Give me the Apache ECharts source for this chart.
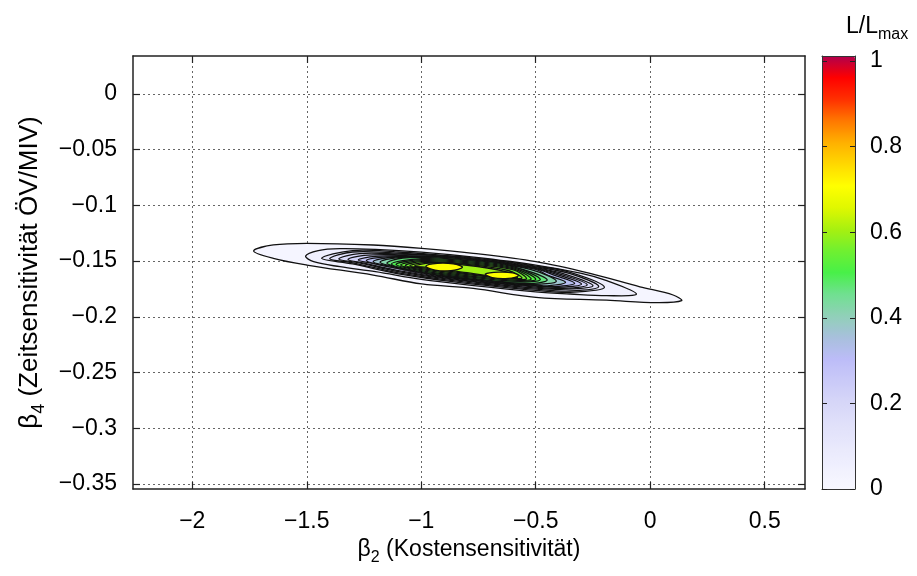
<!DOCTYPE html>
<html>
<head>
<meta charset="utf-8">
<script src="https://cdn.jsdelivr.net/npm/echarts@6/dist/echarts.min.js"></script>
<style>html,body{margin:0;padding:0;background:#fff}#c{width:917px;height:576px}</style>
</head>
<body>
<div id="c"></div>
<script>
// ---- Data ----
const xTicks = [-2, -1.5, -1, -0.5, 0, 0.5];
const yTicks = [0, -0.05, -0.1, -0.15, -0.2, -0.25, -0.3, -0.35];
const cbTicks = [0, 0.2, 0.4, 0.6, 0.8, 1];

// contour levels (L/Lmax) and their outlines [beta2, beta4], outer to inner
const contourLevels = [0.02, 0.06, 0.10, 0.14, 0.18, 0.22, 0.27, 0.32, 0.37, 0.42, 0.47, 0.50, 0.52, 0.54, 0.56, 0.58, 0.60, 0.71, 0.71];
const contourPaths = [
  [[-1.732,-0.1409],[-1.646,-0.1355],[-1.50,-0.134],[-1.21,-0.1355],[-0.998,-0.1385],[-0.773,-0.143],[-0.499,-0.1505],[-0.263,-0.161],[-0.045,-0.173],[0.10,-0.1804],[0.137,-0.1855],[0.028,-0.1873],[-0.19,-0.185],[-0.499,-0.1825],[-0.773,-0.1745],[-0.998,-0.1705],[-1.21,-0.1625],[-1.50,-0.1535],[-1.646,-0.1475]],
  [[-1.505,-0.1455],[-1.45,-0.1405],[-1.355,-0.1388],[-1.2,-0.1395],[-1.0,-0.142],[-0.77,-0.1465],[-0.5,-0.1535],[-0.3,-0.161],[-0.19,-0.1675],[-0.06,-0.1795],[-0.19,-0.181],[-0.35,-0.1795],[-0.5,-0.1775],[-0.77,-0.172],[-1.0,-0.1664],[-1.2,-0.1595],[-1.355,-0.155],[-1.47,-0.1505]],
  [[-1.435,-0.1475],[-1.3,-0.1405],[-1.1,-0.1418],[-0.9,-0.1448],[-0.7,-0.1487],[-0.5,-0.1545],[-0.35,-0.1600],[-0.2,-0.1735],[-0.35,-0.1780],[-0.5,-0.1763],[-0.7,-0.1722],[-0.9,-0.1675],[-1.1,-0.1615],[-1.3,-0.1525]],
  [[-1.40,-0.1478],[-1.3,-0.1418],[-1.1,-0.1428],[-0.9,-0.1453],[-0.7,-0.1492],[-0.5,-0.1552],[-0.35,-0.1612],[-0.225,-0.1728],[-0.35,-0.1768],[-0.5,-0.1752],[-0.7,-0.1712],[-0.9,-0.1665],[-1.1,-0.1605],[-1.3,-0.1515]],
  [[-1.36,-0.148],[-1.27,-0.1432],[-1.1,-0.1436],[-0.9,-0.1457],[-0.7,-0.1497],[-0.5,-0.1558],[-0.37,-0.1618],[-0.25,-0.172],[-0.37,-0.1752],[-0.5,-0.1742],[-0.7,-0.1703],[-0.9,-0.1657],[-1.1,-0.1595],[-1.27,-0.1515]],
  [[-1.32,-0.1485],[-1.25,-0.1448],[-1.1,-0.1443],[-0.9,-0.1460],[-0.7,-0.1501],[-0.5,-0.1563],[-0.38,-0.1625],[-0.275,-0.1712],[-0.38,-0.1745],[-0.5,-0.1733],[-0.7,-0.1696],[-0.9,-0.1650],[-1.1,-0.1585],[-1.25,-0.1518]],
  [[-1.275,-0.149],[-1.2,-0.1458],[-1.05,-0.1452],[-0.9,-0.1463],[-0.7,-0.1505],[-0.5,-0.1567],[-0.4,-0.1625],[-0.30,-0.1705],[-0.4,-0.1735],[-0.5,-0.1725],[-0.7,-0.1690],[-0.9,-0.1644],[-1.05,-0.159],[-1.2,-0.1525]],
  [[-1.24,-0.1495],[-1.15,-0.1462],[-0.9,-0.1466],[-0.7,-0.1508],[-0.5,-0.157],[-0.42,-0.1625],[-0.33,-0.1698],[-0.42,-0.1728],[-0.5,-0.1719],[-0.7,-0.1685],[-0.9,-0.1639],[-1.15,-0.1548]],
  [[-1.21,-0.1505],[-1.12,-0.1465],[-0.9,-0.1469],[-0.7,-0.1511],[-0.5,-0.1573],[-0.45,-0.1625],[-0.37,-0.169],[-0.45,-0.1722],[-0.5,-0.1712],[-0.7,-0.1680],[-0.9,-0.1634],[-1.12,-0.1552]],
  [[-1.18,-0.151],[-1.1,-0.1468],[-0.9,-0.1472],[-0.7,-0.1514],[-0.52,-0.1576],[-0.41,-0.168],[-0.52,-0.1708],[-0.7,-0.1675],[-0.9,-0.163],[-1.1,-0.1556]],
  [[-1.15,-0.152],[-1.08,-0.1472],[-0.9,-0.1475],[-0.7,-0.1517],[-0.55,-0.1578],[-0.45,-0.167],[-0.55,-0.1703],[-0.7,-0.167],[-0.9,-0.1626],[-1.08,-0.1562]],
  [[-1.13,-0.1525],[-1.0,-0.1478],[-0.8,-0.1495],[-0.6,-0.155],[-0.48,-0.1665],[-0.6,-0.1688],[-0.8,-0.1648],[-1.0,-0.1595]],
  [[-1.11,-0.153],[-1.0,-0.1487],[-0.8,-0.1504],[-0.6,-0.1559],[-0.50,-0.1662],[-0.6,-0.1679],[-0.8,-0.1639],[-1.0,-0.1586]],
  [[-1.09,-0.1535],[-1.0,-0.1496],[-0.8,-0.1513],[-0.6,-0.1568],[-0.52,-0.166],[-0.6,-0.167],[-0.8,-0.163],[-1.0,-0.1577]],
  [[-1.07,-0.154],[-1.0,-0.1505],[-0.8,-0.1522],[-0.6,-0.1577],[-0.54,-0.1658],[-0.6,-0.1661],[-0.8,-0.1621],[-1.0,-0.1568]],
  [[-1.05,-0.1543],[-0.98,-0.1512],[-0.8,-0.153],[-0.62,-0.1584],[-0.56,-0.1652],[-0.62,-0.1652],[-0.8,-0.1612],[-0.98,-0.1562]],
  [[-1.03,-0.1546],[-0.96,-0.1518],[-0.8,-0.1537],[-0.64,-0.159],[-0.58,-0.1646],[-0.64,-0.1645],[-0.8,-0.1604],[-0.96,-0.1557]],
  [[-0.98,-0.1545],[-0.93,-0.152],[-0.86,-0.1525],[-0.82,-0.1555],[-0.87,-0.1585],[-0.94,-0.158]],
  [[-0.72,-0.1615],[-0.66,-0.1598],[-0.6,-0.1605],[-0.575,-0.163],[-0.62,-0.1655],[-0.69,-0.1648]]
];

// colour palette of the colour box, from 0 to 1 in steps of 0.05
const paletteColors = ['#f8f8ff','#f0f0fe','#e8e8fc','#e0e0fa','#d6d6f8','#cacaf8','#bcbcf8','#a8c0dc','#90d0b8','#70e090','#48f048','#70f030','#a8f010','#e0f800','#ffff00','#ffd800','#ffb000','#ff7800','#ff3000','#ff0000','#b0004c'];

// ---- Chart ----
const FONT = 'Liberation Sans';
const seriesData = contourLevels.map((lv, i) => [lv, i]);
const minus = v => (v === 0 ? '0' : (v < 0 ? '\u2212' : '') + String(Math.abs(v)));
const border = { color: '#222', width: 1.5 };
const tickStyle = { color: '#222', width: 1.2 };
const lbl = { fontFamily: FONT, fontSize: 23, color: '#000' };
const subRichX = {
  b: { fontFamily: FONT, fontSize: 23, color: '#000' },
  s: { fontFamily: FONT, fontSize: 16, color: '#000', padding: [16, 0, 0, 0] }
};
const subRichY = {
  b: { fontFamily: FONT, fontSize: 26, color: '#000' },
  s: { fontFamily: FONT, fontSize: 18, color: '#000', padding: [18, 0, 0, 0] }
};

const chart = echarts.init(document.getElementById('c'), null, { renderer: 'canvas' });
chart.setOption({
  animation: false,
  backgroundColor: '#fff',
  grid: [
    { left: 133, top: 56, width: 672, height: 433 },
    { left: 822, top: 56, width: 33, height: 433 }
  ],
  xAxis: [
    { gridIndex: 0, type: 'value', min: -2.259, max: 0.676, position: 'bottom',
      axisLine: { onZero: false, lineStyle: border },
      axisTick: { inside: true, length: 7, customValues: xTicks, lineStyle: tickStyle },
      axisLabel: { customValues: xTicks, formatter: minus, margin: 21, ...lbl },
      splitLine: { show: true, lineStyle: { color: '#666', width: 1, type: [2, 3] } },
      name: '{b|\u03b2}{s|2} (Kostensensitivit\u00e4t)', nameLocation: 'middle', nameGap: 40,
      nameTextStyle: { ...lbl, rich: subRichX } },
    { gridIndex: 0, type: 'value', min: -2.259, max: 0.676, position: 'top',
      axisLine: { onZero: false, lineStyle: border },
      axisTick: { inside: true, length: 7, customValues: xTicks, lineStyle: tickStyle },
      axisLabel: { show: false }, splitLine: { show: false } },
    { gridIndex: 1, type: 'value', min: 0, max: 1, position: 'bottom', z: 10,
      axisLine: { onZero: false, lineStyle: { color: '#333', width: 1 } },
      axisTick: { show: false }, axisLabel: { show: false }, splitLine: { show: false } },
    { gridIndex: 1, type: 'value', min: 0, max: 1, position: 'top', z: 10,
      axisLine: { onZero: false, lineStyle: { color: '#333', width: 1 } },
      axisTick: { show: false }, axisLabel: { show: false }, splitLine: { show: false } }
  ],
  yAxis: [
    { gridIndex: 0, type: 'value', min: -0.3545, max: 0.0341, position: 'left',
      axisLine: { onZero: false, lineStyle: border },
      axisTick: { inside: true, length: 7, customValues: yTicks, lineStyle: tickStyle },
      axisLabel: { customValues: yTicks, formatter: minus, margin: 16, ...lbl },
      splitLine: { show: true, lineStyle: { color: '#666', width: 1, type: [2, 3] } },
      name: '{b|\u03b2}{s|4} (Zeitsensitivit\u00e4t \u00d6V/MIV)', nameLocation: 'middle', nameGap: 76,
      nameTextStyle: { fontFamily: FONT, fontSize: 26, color: '#000', rich: subRichY } },
    { gridIndex: 0, type: 'value', min: -0.3545, max: 0.0341, position: 'right',
      axisLine: { onZero: false, lineStyle: border },
      axisTick: { inside: true, length: 7, customValues: yTicks, lineStyle: tickStyle },
      axisLabel: { show: false }, splitLine: { show: false } },
    { gridIndex: 1, type: 'value', min: 0, max: 1.012, position: 'right', z: 10,
      axisLine: { onZero: false, lineStyle: { color: '#333', width: 1 } },
      axisTick: { inside: true, length: 5, customValues: cbTicks, lineStyle: { color: '#222', width: 1 } },
      axisLabel: { customValues: cbTicks, margin: 15, ...lbl },
      splitLine: { show: false } },
    { gridIndex: 1, type: 'value', min: 0, max: 1.012, position: 'left', z: 10,
      axisLine: { onZero: false, lineStyle: { color: '#333', width: 1 } },
      axisTick: { inside: true, length: 5, customValues: cbTicks, lineStyle: { color: '#222', width: 1 } },
      axisLabel: { show: false }, splitLine: { show: false } }
  ],
  visualMap: {
    type: 'continuous', min: 0, max: 1.012, dimension: 0, seriesIndex: 0,
    inRange: { color: paletteColors },
    calculable: false, hoverLink: false, orient: 'vertical',
    left: 822, top: 56, itemWidth: 33, itemHeight: 433, padding: 0,
    text: null, showLabel: false
  },
  graphic: [
    { type: 'text', left: 846, top: 15, z: 20,
      style: { text: '{n|L/L}{s|max}',
        rich: { n: { fontFamily: FONT, fontSize: 23, fill: '#000' },
                s: { fontFamily: FONT, fontSize: 16, fill: '#000', padding: [16, 0, 0, 0] } } } }
  ],
  series: [{
    type: 'custom',
    xAxisIndex: 0, yAxisIndex: 0,
    clip: true,
    data: seriesData,
    renderItem: function (params, api) {
      const idx = api.value(1);
      const pts = contourPaths[idx].map(p => api.coord(p));
      return {
        type: 'polygon',
        shape: { points: pts, smooth: 0.35 },
        style: { fill: api.visual('color'), stroke: '#111', lineWidth: 1.3 }
      };
    }
  }]
});
</script>
</body>
</html>
